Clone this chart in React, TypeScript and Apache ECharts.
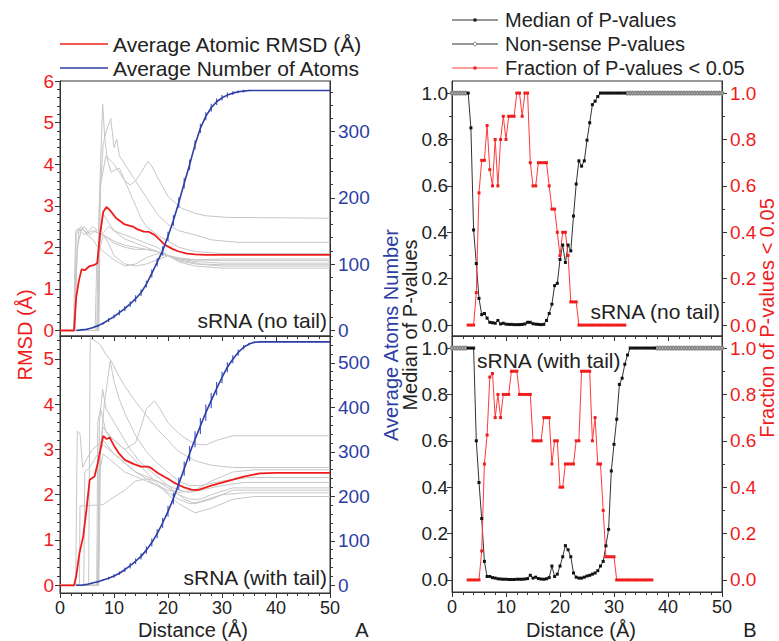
import React, { useEffect, useRef } from "react";
import * as echarts from "echarts";

const FONT = "'Liberation Sans', Arial, Helvetica, sans-serif";
const RED = "#f01c1c";
const BLUE = "#2c3ea6";
const BLUE_ERR = "#4a5cc8";
const GRAY = "#c6c6c6";
const DARK = "#222222";
const AXIS = "#333333";

// ---------- axes ticks ----------
const DIST_TICKS = [0, 10, 20, 30, 40, 50];
const RMSD_TOP_TICKS = [0, 1, 2, 3, 4, 5, 6];
const RMSD_BOT_TICKS = [0, 1, 2, 3, 4, 5];
const ATOMS_TOP_TICKS = [0, 100, 200, 300];
const ATOMS_BOT_TICKS = [0, 100, 200, 300, 400, 500];
const P_TICKS = [0, 0.2, 0.4, 0.6, 0.8, 1.0];

// ---------- Panel A, top: sRNA (no tail) ----------
const TOP_TRACE_1 = [[0,0],[2.7,0],[3.0,2.3],[3.5,2.45],[4.5,2.3],[6,2.4],[8,2.3],[10,2.15],[12,2.05],[14,2.0],[16,1.95],[18,1.9],[20,1.8],[22,1.68],[25,1.6],[30,1.55],[50,1.55]];
const TOP_TRACE_2 = [[0,0],[2.8,0],[3.2,2.0],[4,2.45],[5,2.35],[6,2.5],[7,2.4],[8,2.3],[9,2.2],[10,2.1],[12,2.0],[14,1.95],[16,1.95],[18,1.9],[20,1.8],[22,1.72],[25,1.66],[30,1.62],[50,1.62]];
const TOP_TRACE_3 = [[0,0],[6.8,0],[7.1,2.2],[7.5,4.0],[7.9,5.45],[8.3,4.6],[8.8,4.1],[9.5,3.8],[10,3.85],[11,3.9],[12,3.6],[13,3.3],[14,3.0],[15,2.7],[16,2.5],[18,2.3],[20,2.15],[22,2.0],[25,1.9],[30,1.85],[50,1.85]];
const TOP_TRACE_4 = [[0,0],[7.0,0],[7.3,3.0],[8,4.5],[8.6,4.8],[9.4,5.1],[10,4.4],[10.5,4.6],[11,4.2],[12,4.0],[14,3.6],[16,3.2],[18,2.8],[20,2.55],[22,2.4],[25,2.3],[28,2.18],[33,2.12],[50,2.12]];
const TOP_TRACE_5 = [[0,0],[7.2,0],[7.5,3.5],[8.5,4.2],[10,4.0],[11,3.8],[12,3.6],[13,3.5],[14,3.6],[15,3.8],[16.3,4.07],[17,3.95],[18,3.7],[20,3.22],[22.5,2.94],[25,2.82],[27,2.76],[31,2.72],[50,2.7]];
const TOP_TRACE_6 = [[0,0],[6.5,0],[6.8,1.6],[8,2.8],[9,2.6],[10,2.4],[12,2.3],[14,2.2],[16,2.1],[18,2.0],[20,1.8],[22,1.65],[25,1.55],[30,1.5],[50,1.5]];
const TOP_TRACE_7 = [[0,0],[2.5,0],[2.9,2.4],[4,2.5],[5,2.3],[6,2.2],[7,2.0],[8,1.9],[10,1.7],[12,1.55],[14,1.6],[16,1.75],[18,1.85],[20,1.8],[22,1.7],[26,1.6],[30,1.58],[50,1.58]];
const TOP_TRACE_8 = [[0,0],[7,0],[7.3,1.9],[8,2.3],[9,2.1],[10,1.8],[11,1.7],[12,1.6],[14,1.55],[16,1.6],[18,1.7],[20,1.8],[22,1.75],[25,1.7],[30,1.68],[50,1.68]];
const TOP_TRACE_9 = [[0,0],[2.6,0],[3.0,1.5],[3.5,2.4],[4.5,2.5],[5.5,2.3],[6.5,2.4],[7.5,2.3],[8,2.35],[9,2.5],[10,2.4],[12,2.2],[14,2.1],[16,2.0],[18,1.9],[20,1.8],[22,1.72],[25,1.7],[30,1.72],[50,1.72]];
const TOP_AVG_RMSD = [[0,0],[2.6,0],[3.0,0.8],[3.5,1.2],[4.0,1.47],[4.6,1.45],[5.5,1.55],[6.4,1.58],[6.9,1.62],[7.4,2.3],[8.0,2.85],[8.6,2.97],[9.2,2.9],[10.4,2.7],[12,2.55],[13.5,2.5],[14.4,2.43],[15.5,2.38],[16.5,2.37],[17.5,2.3],[18.5,2.18],[19.4,2.06],[21,1.95],[22,1.9],[23.5,1.85],[25,1.83],[27,1.82],[50,1.82]];
const ATOMS_X = [3,4,5,6,7,8,9,10,11,12,13,14,15,16,17,18,19,20,21,22,23,24,25,26,27,28,29,30,31,32,33,34,35,36,37,38,39,40,41,42,43,44,45,46,47,48,49,50];
const TOP_ATOMS = [0,1,2,4,7,11,16,21,27,33,40,48,57,70,86,103,120,142,166,193,222,250,280,305,323,336,345,351,355,358,360,361,362,362,362,362,362,362,362,362,362,362,362,362,362,362,362,362];
const TOP_ATOMS_ERR = [0,0,1,1,2,2,3,3,4,4,4,5,5,5,6,6,7,7,8,8,8,8,7,7,6,6,5,4,4,3,2,2,1,0,0,0,0,0,0,0,0,0,0,0,0,0,0,0];

// ---------- Panel A, bottom: sRNA (with tail) ----------
const BOT_TRACE_1 = [[0,0],[5.3,0],[5.6,5.45],[6.5,5.4],[7.5,5.3],[8.5,5.1],[9.5,4.95],[11,4.6],[12,4.4],[14,4.05],[16,3.75],[18,3.45],[20,3.2],[22,2.95],[25,2.75],[28,2.65],[32,2.6],[50,2.6]];
const BOT_TRACE_2 = [[0,0],[7,0],[7.4,3.0],[8,3.5],[9,3.3],[10,3.2],[12,3.0],[14,3.15],[15,3.5],[16,3.9],[17.5,4.07],[18.5,3.9],[20,3.59],[22,3.35],[23,3.26],[25,3.12],[27,3.1],[29,3.2],[32,3.3],[50,3.3]];
const BOT_TRACE_3 = [[0,0],[7.2,0],[7.5,3.0],[8.2,4.0],[9.3,4.95],[10,4.5],[11,4.1],[12,3.8],[14,3.3],[16,2.95],[18,2.7],[20,2.5],[22,2.3],[24,2.2],[26,2.2],[30,2.3],[35,2.38],[50,2.38]];
const BOT_TRACE_4 = [[0,0],[7.0,0],[7.3,3.6],[7.9,4.33],[8.5,3.9],[9.5,3.7],[11,3.4],[13,3.0],[15,2.7],[17,2.5],[19,2.3],[21,2.1],[23,1.9],[25,1.8],[28,1.9],[32,2.1],[50,2.1]];
const BOT_TRACE_5 = [[0,0],[2.9,0],[3.2,3.4],[3.7,3.35],[4.2,2.6],[5,2.8],[6,3.0],[7,3.1],[8,3.2],[9,3.05],[10,2.9],[12,2.7],[14,2.5],[16,2.35],[18,2.2],[20,2.05],[22,1.9],[24,1.8],[26,1.85],[30,2.0],[34,2.04],[50,2.04]];
const BOT_TRACE_6 = [[0,0],[3.6,0],[3.7,1.75],[5,1.76],[8,1.78],[10,1.95],[12,2.1],[14,2.3],[16,2.35],[18,2.3],[20,2.15],[22,2.0],[24,1.9],[26,1.9],[28,2.0],[32,2.15],[50,2.15]];
const BOT_TRACE_7 = [[0,0],[4.4,0],[4.6,2.5],[5.5,2.6],[7,2.9],[8,3.1],[9,3.0],[10,2.9],[12,2.7],[14,2.5],[16,2.4],[18,2.3],[20,2.2],[22,2.1],[24,2.05],[26,2.1],[30,2.2],[34,2.27],[50,2.27]];
const BOT_TRACE_8 = [[0,0],[7,0],[7.3,2.5],[8,2.9],[9,2.8],[10,2.7],[12,2.5],[14,2.4],[16,2.3],[18,2.2],[20,2.1],[22,2.05],[25,2.1],[28,2.3],[32,2.5],[36,2.55],[50,2.55]];
const BOT_TRACE_9 = [[0,0],[6.8,0],[7.0,3.6],[7.5,3.9],[8.5,3.4],[10,3.2],[12,3.0],[14,2.75],[16,2.5],[18,2.25],[20,2.0],[22,1.8],[25,1.6],[28,1.7],[32,1.9],[36,1.96],[50,1.96]];
const BOT_AVG_RMSD = [[0,0],[2.6,0],[3.0,0.2],[3.6,0.71],[4.3,1.08],[4.9,1.67],[5.5,2.33],[6.4,2.4],[7.0,2.7],[7.5,3.0],[8.0,3.3],[8.6,3.23],[9.2,3.26],[10.1,3.06],[11,2.9],[12,2.77],[13.8,2.67],[15,2.62],[16.3,2.62],[17,2.58],[18.1,2.48],[20,2.35],[21.2,2.26],[23,2.16],[24.3,2.11],[25.5,2.1],[28,2.2],[31,2.3],[34,2.4],[37,2.47],[40,2.48],[50,2.48]];
const BOT_ATOMS = [0,0,2,5,8,12,16,21,27,35,44,54,65,79,96,116,140,166,195,228,262,296,328,358,388,415,442,467,490,508,523,535,542,546,547,547,547,547,547,547,547,547,547,547,547,547,547,547];
const BOT_ATOMS_ERR = [0,0,1,1,2,2,3,4,4,5,6,6,7,8,9,10,11,12,13,14,16,17,18,18,18,17,15,13,11,9,7,5,3,2,1,0,0,0,0,0,0,0,0,0,0,0,0,0];

// ---------- Panel B (distance starts at 3.0 Å, 0.5 Å steps) ----------
const P_START = 3.0;
const P_STEP = 0.5;
const MEDIAN_NO_TAIL = [1.0,0.85,0.41,0.265,0.115,0.045,0.05,0.03,0.012,0.01,0.008,0.02,0.005,0.008,0.004,0.003,0.003,0.002,0.002,0.002,0.003,0.005,0.012,0.012,0.006,0.004,0.003,0.002,0.003,0.02,0.05,0.09,0.17,0.18,0.283,0.345,0.27,0.345,0.32,0.47,0.608,0.708,0.685,0.708,0.797,0.872,0.95,0.965,0.985,1.0,1.0,1.0,1.0,1.0,1.0,1.0,1.0,1.0,1.0];
const FRACTION_NO_TAIL = [0,0,0,0.14,0.57,0.71,0.71,0.86,0.67,0.6,0.8,0.6,0.8,0.9,0.8,0.9,0.9,0.9,1.0,1.0,0.9,1.0,1.0,0.7,0.6,0.6,0.7,0.7,0.7,0.7,0.6,0.5,0.5,0.4,0.3,0.4,0.4,0.3,0.1,0.1,0.1,0,0,0,0,0,0,0,0,0,0,0,0,0,0,0,0,0,0];
const MEDIAN_WITH_TAIL = [1.0,1.0,1.0,0.6,0.42,0.265,0.08,0.015,0.015,0.01,0.008,0.005,0.004,0.003,0.003,0.002,0.002,0.002,0.003,0.003,0.003,0.004,0.006,0.02,0.008,0.012,0.006,0.004,0.003,0.005,0.01,0.06,0.015,0.025,0.06,0.1,0.148,0.13,0.1,0.03,0.012,0.008,0.008,0.012,0.017,0.02,0.025,0.03,0.04,0.06,0.08,0.147,0.218,0.47,0.585,0.693,0.843,0.87,0.93,0.97,1.0,1.0,1.0,1.0,1.0,1.0,1.0,1.0,1.0,1.0];
const FRACTION_WITH_TAIL = [0,0,0,0,0,0.125,0.5,0.625,0.875,0.89,0.7,0.8,0.7,0.8,0.8,0.8,0.9,0.9,0.9,0.8,0.8,0.8,0.8,0.8,0.6,0.6,0.6,0.6,0.7,0.7,0.7,0.5,0.6,0.6,0.4,0.4,0.5,0.5,0.5,0.5,0.6,0.6,0.9,0.9,0.9,0.9,0.6,0.7,0.5,0.5,0.3,0.1,0.1,0.1,0.1,0,0,0,0,0,0,0,0,0,0,0,0,0,0];
const NONSENSE_VALUE = 1.0;
const NONSENSE_NO_TAIL_RANGES = [[0, 2.5], [32.5, 50]];
const NONSENSE_WITH_TAIL_RANGES = [[0, 2.5], [38, 50]];

// ---------- helpers ----------
const stepPairs = (ys: number[]) => ys.map((y, i) => [P_START + i * P_STEP, y]);
const nonsensePairs = (ranges: number[][]) => {
  const out: any[] = [];
  ranges.forEach((r, k) => {
    if (k > 0) out.push([r[0] - P_STEP / 2, null]);
    for (let x = r[0]; x <= r[1] + 1e-9; x += P_STEP) out.push([x, NONSENSE_VALUE]);
  });
  return out;
};
const minorTicks = (min: number, max: number, major: number, n: number) => {
  const step = major / n;
  const out: number[] = [];
  const s = Math.ceil(min / step - 1e-9);
  const e = Math.floor(max / step + 1e-9);
  for (let i = s; i <= e; i++) {
    if (i % n === 0) continue;
    const v = +(i * step).toFixed(6);
    if (v > min && v < max) out.push(v);
  }
  return out;
};

function yAxisPair(grid: number, pos: string, min: number, max: number, majors: number[], majorStep: number, nSub: number, color: string, margin: number, fmt?: (v: number) => string) {
  return [
    {
      type: "value", gridIndex: grid, position: pos, min, max,
      splitLine: { show: false },
      axisLine: { show: true, onZero: false, lineStyle: { color: AXIS, width: 1 } },
      axisTick: { show: true, inside: false, length: 5, customValues: majors, lineStyle: { color: AXIS } },
      axisLabel: { show: true, customValues: majors, color, fontSize: 19, fontFamily: FONT, margin, formatter: fmt },
    },
    {
      type: "value", gridIndex: grid, position: pos, min, max,
      splitLine: { show: false },
      axisLine: { show: false, onZero: false },
      axisTick: { show: true, inside: false, length: 3, customValues: minorTicks(min, max, majorStep, nSub), lineStyle: { color: AXIS } },
      axisLabel: { show: false },
    },
  ];
}

function xAxis(grid: number, showLabel: boolean) {
  return {
    type: "value", gridIndex: grid, min: 0, max: 50, interval: 10, position: "bottom",
    splitLine: { show: false },
    axisLine: { show: true, onZero: false, lineStyle: { color: AXIS } },
    axisTick: { show: true, inside: false, length: 5, lineStyle: { color: AXIS } },
    minorTick: { show: true, splitNumber: 5, length: 3, lineStyle: { color: AXIS } },
    axisLabel: { show: showLabel, color: DARK, fontSize: 18, fontFamily: FONT, margin: 6, customValues: DIST_TICKS },
  };
}

const grayLine = (data: number[][], xi: number, yi: number) => ({
  type: "line", xAxisIndex: xi, yAxisIndex: yi, data, showSymbol: false, silent: true,
  lineStyle: { color: GRAY, width: 1 }, z: 1,
});

const errorSeries = (ys: number[], errs: number[], xi: number, yi: number) => ({
  type: "custom", xAxisIndex: xi, yAxisIndex: yi, z: 3, silent: true,
  data: ATOMS_X.map((x, i) => [x, ys[i] - errs[i], ys[i] + errs[i]]),
  encode: { x: 0, y: [1, 2] },
  renderItem: (params: any, api: any) => {
    const p1 = api.coord([api.value(0), api.value(1)]);
    const p2 = api.coord([api.value(0), api.value(2)]);
    return { type: "line", shape: { x1: p1[0], y1: p1[1], x2: p2[0], y2: p2[1] }, style: { stroke: BLUE_ERR, lineWidth: 1.2 } };
  },
});

const text = (t: string, x: number, y: number, size: number, color: string, align = "left", rotation = 0) => ({
  type: "text", x, y, rotation, z: 100,
  style: { text: t, fill: color, fontSize: size, fontFamily: FONT, align, verticalAlign: "middle" },
});
const hline = (x1: number, x2: number, y: number, color: string, w = 1.5) => ({
  type: "line", z: 100, shape: { x1, y1: y, x2, y2: y }, style: { stroke: color, lineWidth: w },
});

export default function App() {
  const ref = useRef<HTMLDivElement>(null);
  useEffect(() => {
    if (!ref.current) return;
    const chart = echarts.init(ref.current, undefined, { renderer: "svg" });

    const gridBase = { show: true, borderColor: AXIS, borderWidth: 1, containLabel: false, outerBoundsMode: "none" };
    const grids = [
      { ...gridBase, left: 60, top: 81, width: 270, height: 255 },
      { ...gridBase, left: 60, top: 336, width: 270, height: 257 },
      { ...gridBase, left: 452, top: 81, width: 270, height: 255 },
      { ...gridBase, left: 452, top: 336, width: 270, height: 256 },
    ];

    const p1 = (v: number) => v.toFixed(1);
    const yAxes = [
      ...yAxisPair(0, "left", -0.132, 6, RMSD_TOP_TICKS, 1, 5, RED, 6),          // 0,1
      ...yAxisPair(0, "right", -8.3, 376.3, ATOMS_TOP_TICKS, 100, 5, BLUE, 8),   // 2,3
      ...yAxisPair(1, "left", -0.17, 5.503, RMSD_BOT_TICKS, 1, 5, RED, 6),       // 4,5
      ...yAxisPair(1, "right", -17.3, 560.2, ATOMS_BOT_TICKS, 100, 5, BLUE, 8),  // 6,7
      ...yAxisPair(2, "left", -0.047, 1.052, P_TICKS, 0.2, 2, DARK, 4, p1),      // 8,9
      ...yAxisPair(2, "right", -0.047, 1.052, P_TICKS, 0.2, 2, RED, 8, p1),      // 10,11
      ...yAxisPair(3, "left", -0.052, 1.052, P_TICKS, 0.2, 2, DARK, 4, p1),      // 12,13
      ...yAxisPair(3, "right", -0.052, 1.052, P_TICKS, 0.2, 2, RED, 8, p1),      // 14,15
    ];
    const xAxes = [xAxis(0, false), xAxis(1, true), xAxis(2, false), xAxis(3, true)];

    const atomsTop = ATOMS_X.map((x, i) => [x, TOP_ATOMS[i]]);
    const atomsBot = ATOMS_X.map((x, i) => [x, BOT_ATOMS[i]]);

    const pSeries = (median: number[], fraction: number[], ranges: number[][], xi: number, yl: number, yr: number) => [
      {
        type: "line", xAxisIndex: xi, yAxisIndex: yl, data: nonsensePairs(ranges), connectNulls: false,
        symbol: "emptyCircle", symbolSize: 3, showSymbol: true,
        lineStyle: { color: "#666", width: 1 }, itemStyle: { color: "#888", borderWidth: 0.8 }, z: 2,
      },
      {
        type: "line", xAxisIndex: xi, yAxisIndex: yl, data: stepPairs(median),
        symbol: "rect", symbolSize: 3, showSymbol: true,
        lineStyle: { color: "#333", width: 1 }, itemStyle: { color: "#111" }, z: 3,
      },
      {
        type: "line", xAxisIndex: xi, yAxisIndex: yr, data: stepPairs(fraction),
        symbol: "rect", symbolSize: 3, showSymbol: true,
        lineStyle: { color: "#ff3a3a", width: 1 }, itemStyle: { color: "#f01c1c" }, z: 3,
      },
    ];

    const series: any[] = [
      ...[TOP_TRACE_1, TOP_TRACE_2, TOP_TRACE_3, TOP_TRACE_4, TOP_TRACE_5, TOP_TRACE_6, TOP_TRACE_7, TOP_TRACE_8, TOP_TRACE_9].map((d) => grayLine(d, 0, 0)),
      { type: "line", xAxisIndex: 0, yAxisIndex: 0, data: TOP_AVG_RMSD, showSymbol: false, lineStyle: { color: RED, width: 1.8 }, z: 2 },
      errorSeries(TOP_ATOMS, TOP_ATOMS_ERR, 0, 2),
      { type: "line", xAxisIndex: 0, yAxisIndex: 2, data: atomsTop, showSymbol: false, lineStyle: { color: BLUE, width: 1.6 }, z: 4 },

      ...[BOT_TRACE_1, BOT_TRACE_2, BOT_TRACE_3, BOT_TRACE_4, BOT_TRACE_5, BOT_TRACE_6, BOT_TRACE_7, BOT_TRACE_8, BOT_TRACE_9].map((d) => grayLine(d, 1, 4)),
      { type: "line", xAxisIndex: 1, yAxisIndex: 4, data: BOT_AVG_RMSD, showSymbol: false, lineStyle: { color: RED, width: 1.8 }, z: 2 },
      errorSeries(BOT_ATOMS, BOT_ATOMS_ERR, 1, 6),
      { type: "line", xAxisIndex: 1, yAxisIndex: 6, data: atomsBot, showSymbol: false, lineStyle: { color: BLUE, width: 1.6 }, z: 4 },

      ...pSeries(MEDIAN_NO_TAIL, FRACTION_NO_TAIL, NONSENSE_NO_TAIL_RANGES, 2, 8, 10),
      ...pSeries(MEDIAN_WITH_TAIL, FRACTION_WITH_TAIL, NONSENSE_WITH_TAIL_RANGES, 3, 12, 14),
    ];

    const graphic: any[] = [
      // legend A
      hline(60, 108, 44, RED),
      text("Average Atomic RMSD (Å)", 113, 44, 21, DARK),
      hline(60, 108, 68, BLUE),
      text("Average Number of Atoms", 113, 68, 21, DARK),
      // legend B
      hline(452, 498, 20, "#333", 1),
      { type: "rect", z: 101, shape: { x: 473.5, y: 18.5, width: 3, height: 3 }, style: { fill: "#111" } },
      text("Median of P-values", 505, 20, 20, DARK),
      hline(452, 498, 44, "#333", 1),
      { type: "circle", z: 101, shape: { cx: 475, cy: 44, r: 1.8 }, style: { fill: "#fff", stroke: "#666", lineWidth: 0.8 } },
      text("Non-sense P-values", 505, 44, 20, DARK),
      hline(452, 498, 68, "#ff3a3a", 1),
      { type: "rect", z: 101, shape: { x: 473.5, y: 66.5, width: 3, height: 3 }, style: { fill: RED } },
      text("Fraction of P-values < 0.05", 505, 68, 20, DARK),
      // panel labels
      text("sRNA (no tail)", 327, 320, 21, DARK, "right"),
      text("sRNA (with tail)", 327, 577, 21, DARK, "right"),
      text("sRNA (no tail)", 720, 311, 21, DARK, "right"),
      text("sRNA (with tail)", 477, 360, 21, DARK, "left"),
      // axis titles
      text("RMSD (Å)", 25, 335, 20, RED, "center", Math.PI / 2),
      text("Average Atoms Number", 391, 335, 20, BLUE, "center", Math.PI / 2),
      text("Median of P-values", 410, 325, 20, DARK, "center", Math.PI / 2),
      text("Fraction of P-values < 0.05", 767, 318, 20, RED, "center", Math.PI / 2),
      text("Distance (Å)", 193, 630, 20, DARK, "center"),
      text("Distance (Å)", 581, 630, 20, DARK, "center"),
      text("A", 362, 630, 20, DARK, "center"),
      text("B", 750, 630, 20, DARK, "center"),
    ];

    chart.setOption({
      animation: false,
      backgroundColor: "#ffffff",
      textStyle: { fontFamily: FONT },
      grid: grids,
      xAxis: xAxes,
      yAxis: yAxes,
      series,
      graphic,
    });
    return () => chart.dispose();
  }, []);

  return <div ref={ref} style={{ position: "absolute", left: 0, top: 0, width: 779, height: 641, background: "#fff" }} />;
}
